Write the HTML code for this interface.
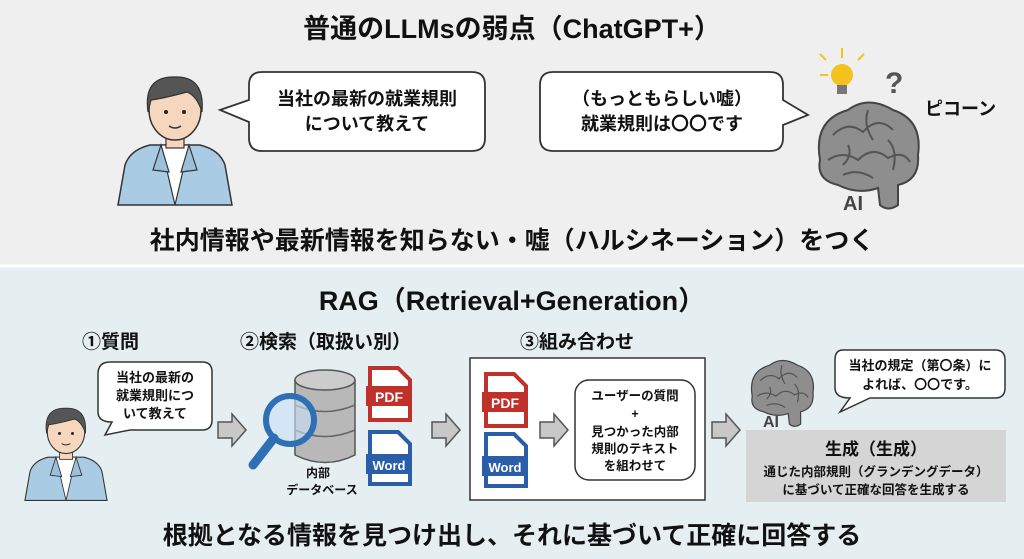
<!DOCTYPE html>
<html><head><meta charset="utf-8"><style>
html,body{margin:0;padding:0;background:#f0f0f0}
svg{display:block}
text{font-family:"Liberation Sans","Noto Sans CJK JP",sans-serif;font-weight:bold;fill:#111}
</style></head><body>
<svg width="1024" height="559" viewBox="0 0 1024 559" xmlns="http://www.w3.org/2000/svg">
<defs>
<g id="person">
 <path d="M-57,95 L-50,55 Q-45,40 -25,35 L25,35 Q45,40 50,55 L57,95 Z" fill="#a9cbe4" stroke="#333" stroke-width="1.5"/>
 <path d="M-14,35 L0,95 L14,35 Z" fill="#fff" stroke="#333" stroke-width="1.2"/>
 <path d="M-14,35 L-22,60 L-6,62 Z M14,35 L22,60 L6,62 Z" fill="#9cc0dc" stroke="#333" stroke-width="1.2"/>
 <rect x="-9" y="18" width="18" height="20" fill="#f6d7bd" stroke="#333" stroke-width="1.2"/>
 <ellipse cx="0" cy="0" rx="26" ry="30" fill="#f6d7bd" stroke="#333" stroke-width="1.5"/>
 <path d="M-27,2 Q-32,-34 0,-33 Q30,-34 27,2 Q22,-14 12,-18 Q-10,-12 -24,-10 Z" fill="#555" stroke="#333" stroke-width="1.2"/>
 <circle cx="-9" cy="2" r="2" fill="#222"/><circle cx="9" cy="2" r="2" fill="#222"/>
 <path d="M-6,16 Q0,20 6,16" stroke="#333" fill="none" stroke-width="1.5"/>
</g>
<g id="brain">
 <path d="M-48,10 Q-55,-30 -20,-40 Q0,-55 25,-40 Q55,-30 50,5 Q52,30 30,35 L30,55 Q20,62 12,55 L10,38 Q-10,45 -30,35 Q-52,30 -48,10 Z" fill="#8e8e8e" stroke="#444" stroke-width="2"/>
 <path d="M-35,-15 Q-20,-30 -5,-18 Q10,-35 25,-20 M-40,10 Q-25,0 -10,10 Q5,-5 20,8 Q35,0 42,12 M-25,25 Q-10,18 5,28 M0,-40 Q-5,-25 5,-10 M-20,-5 Q-15,5 -25,15 M20,-10 Q30,0 25,20" fill="none" stroke="#555" stroke-width="2"/>
</g>
<g id="arrow"><path d="M0,-8 L14,-8 L14,-16 L28,0 L14,16 L14,8 L0,8 Z" fill="#c8c8c8" stroke="#555" stroke-width="1.5"/></g>
<g id="pdf"><path d="M0,0 L28,0 L40,12 L40,52 L0,52 Z" fill="#fff" stroke="#c0312b" stroke-width="4"/><rect x="-4" y="18" width="46" height="20" fill="#c0312b"/><text x="19" y="34" font-size="14" text-anchor="middle" style="fill:#fff">PDF</text></g>
<g id="word"><path d="M0,0 L28,0 L40,12 L40,52 L0,52 Z" fill="#fff" stroke="#2a5ea8" stroke-width="4"/><rect x="-4" y="22" width="46" height="20" fill="#2a5ea8"/><text x="19" y="38" font-size="13" text-anchor="middle" style="fill:#fff">Word</text></g>
</defs>
<rect x="0" y="0" width="1024" height="266" fill="#efefef"/>
<rect x="0" y="266" width="1024" height="293" fill="#e5eef0"/>
<line x1="0" y1="266" x2="1024" y2="266" stroke="#fff" stroke-width="3"/>

<text x="512" y="38" font-size="27" text-anchor="middle">普通のLLMsの弱点（ChatGPT+）</text>
<use href="#person" transform="translate(175,110)"/>
<path d="M262,72 L472,72 Q485,72 485,85 L485,138 Q485,151 472,151 L262,151 Q249,151 249,138 L249,122 L220,110 L249,100 L249,85 Q249,72 262,72 Z" fill="#fff" stroke="#333" stroke-width="1.8"/>
<text x="367" y="105" font-size="18" text-anchor="middle">当社の最新の就業規則</text>
<text x="367" y="130" font-size="18" text-anchor="middle">について教えて</text>
<path d="M553,72 L770,72 Q783,72 783,85 L783,100 L808,115 L783,125 L783,138 Q783,151 770,151 L553,151 Q540,151 540,138 L540,85 Q540,72 553,72 Z" fill="#fff" stroke="#333" stroke-width="1.8"/>
<text x="662" y="105" font-size="18" text-anchor="middle">（もっともらしい嘘）</text>
<text x="662" y="130" font-size="18" text-anchor="middle">就業規則は〇〇です</text>
<use href="#brain" transform="translate(868,150)"/>
<circle cx="842" cy="75" r="11" fill="#f5c21b"/><rect x="837" y="85" width="10" height="9" fill="#777"/>
<path d="M826,60 L820,54 M842,58 L842,48 M858,60 L864,54 M828,75 L820,75" stroke="#f5c21b" stroke-width="2"/>
<text x="885" y="93" font-size="30" style="fill:#555">?</text>
<text x="925" y="115" font-size="18">ピコーン</text>
<text x="843" y="210" font-size="20" style="fill:#444">AI</text>
<text x="512" y="249" font-size="25" text-anchor="middle">社内情報や最新情報を知らない・嘘（ハルシネーション）をつく</text>

<text x="512" y="310" font-size="27" text-anchor="middle">RAG（Retrieval+Generation）</text>
<text x="82" y="348" font-size="19">①質問</text>
<text x="240" y="348" font-size="19">②検索（取扱い別）</text>
<text x="520" y="348" font-size="19">③組み合わせ</text>
<use href="#person" transform="translate(66,432) scale(0.72)"/>
<path d="M110,362 L202,362 Q212,362 212,372 L212,420 Q212,430 202,430 L130,430 L105,435 L112,422 Q98,422 98,412 L98,374 Q98,362 110,362 Z" fill="#fff" stroke="#333" stroke-width="1.5"/>
<text x="155" y="382" font-size="13" text-anchor="middle">当社の最新の</text>
<text x="155" y="400" font-size="13" text-anchor="middle">就業規則につ</text>
<text x="155" y="418" font-size="13" text-anchor="middle">いて教えて</text>
<use href="#arrow" transform="translate(218,430)"/>
<path d="M295,380 L295,455 Q325,470 355,455 L355,380" fill="#b8b8b8" stroke="#555" stroke-width="1.5"/>
<ellipse cx="325" cy="380" rx="30" ry="10" fill="#ccc" stroke="#555" stroke-width="1.5"/>
<path d="M295,405 Q325,418 355,405 M295,430 Q325,443 355,430" fill="none" stroke="#666" stroke-width="1.5"/>
<circle cx="290" cy="420" r="24" fill="rgba(200,225,245,0.6)" stroke="#2e6fb5" stroke-width="6"/>
<line x1="274" y1="438" x2="253" y2="465" stroke="#2e6fb5" stroke-width="9" stroke-linecap="round"/>
<text x="318" y="477" font-size="12" text-anchor="middle">内部</text>
<text x="322" y="494" font-size="12" text-anchor="middle">データベース</text>
<use href="#pdf" transform="translate(370,368)"/>
<use href="#word" transform="translate(370,432)"/>
<use href="#arrow" transform="translate(432,430)"/>
<rect x="470" y="358" width="235" height="142" fill="#fff" stroke="#333" stroke-width="1.5"/>
<use href="#pdf" transform="translate(486,374)"/>
<use href="#word" transform="translate(486,434)"/>
<use href="#arrow" transform="translate(540,430)"/>
<rect x="575" y="380" width="120" height="100" rx="14" fill="#fff" stroke="#333" stroke-width="1.5"/>
<text x="635" y="400" font-size="12.5" text-anchor="middle">ユーザーの質問</text>
<text x="635" y="418" font-size="12.5" text-anchor="middle">+</text>
<text x="635" y="436" font-size="12.5" text-anchor="middle">見つかった内部</text>
<text x="635" y="453" font-size="12.5" text-anchor="middle">規則のテキスト</text>
<text x="635" y="470" font-size="12.5" text-anchor="middle">を組わせて</text>
<use href="#arrow" transform="translate(712,430)"/>
<use href="#brain" transform="translate(782,390) scale(0.62)"/>
<text x="763" y="427" font-size="16" style="fill:#444">AI</text>
<path d="M843,350 L995,350 Q1005,350 1005,360 L1005,388 Q1005,398 995,398 L870,398 L840,412 L850,398 Q835,398 835,388 L835,360 Q835,350 843,350 Z" fill="#fff" stroke="#333" stroke-width="1.5"/>
<text x="920" y="370" font-size="13" text-anchor="middle">当社の規定（第〇条）に</text>
<text x="920" y="389" font-size="13" text-anchor="middle">よれば、〇〇です。</text>
<rect x="746" y="430" width="260" height="72" fill="#d5d5d5"/>
<text x="876" y="455" font-size="17" text-anchor="middle">生成（生成）</text>
<text x="876" y="476" font-size="12.5" text-anchor="middle">通じた内部規則（グランデングデータ）</text>
<text x="876" y="494" font-size="12.5" text-anchor="middle">に基づいて正確な回答を生成する</text>
<text x="512" y="544" font-size="25" text-anchor="middle">根拠となる情報を見つけ出し、それに基づいて正確に回答する</text>
</svg>
</body></html>
